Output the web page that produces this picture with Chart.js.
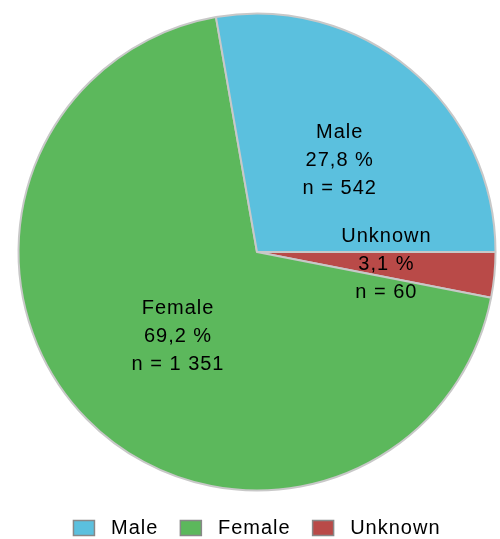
<!DOCTYPE html>
<html>
<head>
<meta charset="utf-8">
<script src="https://cdn.jsdelivr.net/npm/chart.js@4"></script>
<style>
  html, body { margin: 0; padding: 0; background: #fff; overflow: hidden; }
  #wrap { width: 500px; height: 548px; position: relative; }
</style>
</head>
<body>
<div id="wrap"><canvas id="genderChart"></canvas></div>
<script>
// data
const categories = ['Male', 'Female', 'Unknown'];
const counts = [542, 1351, 60];
const sliceColors = ['#5BC0DE', '#5CB85C', '#B94A48'];

const total = counts.reduce((s, v) => s + v, 0);
const fmtPct = v => (v / total * 100).toFixed(1).replace('.', ',') + ' %';
const fmtN = v => 'n = ' + String(v).replace(/\B(?=(\d{3})+(?!\d))/g, ' ');

// the reference runs counter-clockwise from 3 o'clock; chart.js only goes clockwise,
// so feed the slices in reverse and flip the legend back
const order = categories.map((_, i) => i).reverse();

const FONT = '"Liberation Sans", Arial, sans-serif';

// label placement per slice: fraction of radius + small turn off the mid-angle (deg)
const labelPlace = {
  Male: { r: 0.516, turn: 2.2 },
  Female: { r: 0.484, turn: -2.4 },
  Unknown: { r: 0.545, turn: 0 }
};

// the reference text is a bit loosely spaced
const spacing = {
  id: 'spacing',
  beforeLayout(chart) { chart.ctx.letterSpacing = '1px'; },
  beforeDraw(chart) { chart.ctx.letterSpacing = '1px'; }
};

const sliceLabels = {
  id: 'sliceLabels',
  afterDatasetsDraw(chart) {
    const ctx = chart.ctx;
    const meta = chart.getDatasetMeta(0);
    ctx.save();
    ctx.letterSpacing = '1px';
    ctx.font = '20px ' + FONT;
    ctx.fillStyle = '#000';
    ctx.textAlign = 'center';
    ctx.textBaseline = 'middle';
    meta.data.forEach((arc, i) => {
      const idx = order[i];
      const name = categories[idx];
      const place = labelPlace[name];
      const p = arc.getProps(['x', 'y', 'startAngle', 'endAngle', 'outerRadius'], true);
      const mid = (p.startAngle + p.endAngle) / 2 + place.turn * Math.PI / 180;
      const r = p.outerRadius * place.r;
      const x = p.x + Math.cos(mid) * r;
      const y = p.y + Math.sin(mid) * r;
      const lines = [name, fmtPct(counts[idx]), fmtN(counts[idx])];
      lines.forEach((t, k) => ctx.fillText(t, x, y + (k - 1) * 28));
    });
    ctx.restore();
  }
};

new Chart(document.getElementById('genderChart'), {
  type: 'pie',
  data: {
    labels: order.map(i => categories[i]),
    datasets: [{
      data: order.map(i => counts[i]),
      backgroundColor: order.map(i => sliceColors[i]),
      borderColor: '#C8C8C8',
      borderWidth: 2
    }]
  },
  options: {
    responsive: true,
    maintainAspectRatio: false,
    animation: false,
    rotation: 90,
    layout: { padding: { left: 17.5, right: 3.5, top: 8, bottom: 0 } },
    plugins: {
      tooltip: { enabled: false },
      legend: {
        position: 'bottom',
        reverse: true,
        labels: {
          boxWidth: 21,
          boxHeight: 15,
          padding: 22,
          color: '#000',
          font: { family: FONT, size: 20 },
          generateLabels(chart) {
            const items = Chart.overrides.pie.plugins.legend.labels.generateLabels(chart);
            items.forEach(it => {
              it.text = ' ' + it.text;
              it.strokeStyle = '#888';
              it.lineWidth = 1.5;
            });
            return items;
          }
        }
      }
    }
  },
  plugins: [spacing, sliceLabels]
});
</script>
</body>
</html>
